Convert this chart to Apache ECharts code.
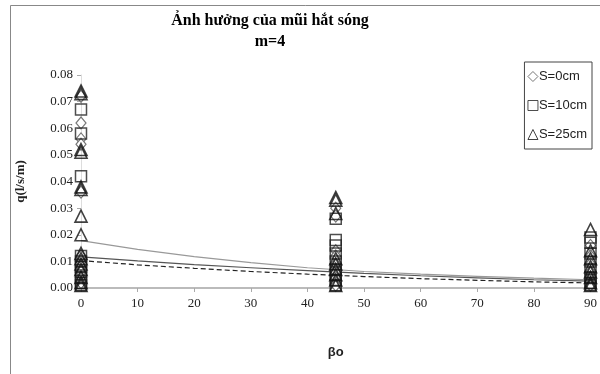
<!DOCTYPE html>
<html>
<head>
<meta charset="utf-8">
<script src="https://cdn.jsdelivr.net/npm/echarts@6/dist/echarts.min.js"></script>
<style>
  html, body { margin: 0; padding: 0; background: #fff; }
  #chart { width: 600px; height: 374px; }
</style>
</head>
<body>
<div id="chart"></div>
<script>
// angle positions on the x axis
const angles = [0, 45, 90];

const s0At0 = [0.072, 0.062, 0.056, 0.054, 0.036, 0.012, 0.010, 0.008, 0.006, 0.004, 0.002];
const s0At45 = [0.030, 0.027, 0.014, 0.012, 0.009, 0.006, 0.004, 0.002, 0.001];
const s0At90 = [0.016, 0.012, 0.009, 0.006, 0.004, 0.002, 0.001];

const s10At0 = [0.067, 0.058, 0.042, 0.012, 0.010, 0.008, 0.006, 0.004, 0.002, 0.001];
const s10At45 = [0.026, 0.018, 0.016, 0.013, 0.010, 0.007, 0.005, 0.003, 0.001];
const s10At90 = [0.019, 0.017, 0.013, 0.010, 0.007, 0.004, 0.002, 0.001];

const s25At0 = [0.074, 0.073, 0.052, 0.051, 0.038, 0.037, 0.027, 0.020, 0.013, 0.011, 0.009, 0.007, 0.004, 0.002, 0.001];
const s25At45 = [0.034, 0.033, 0.028, 0.011, 0.009, 0.007, 0.005, 0.003, 0.001];
const s25At90 = [0.022, 0.014, 0.011, 0.008, 0.006, 0.004, 0.002, 0.001];

// trend lines, read at every 10 degrees
const trendX = [0, 10, 20, 30, 40, 50, 60, 70, 80, 90];
const trendGray = [0.0178, 0.0145, 0.0118, 0.0095, 0.0076, 0.0062, 0.0052, 0.0044, 0.0037, 0.0031];
const trendDark = [0.0117, 0.0102, 0.0088, 0.0076, 0.0065, 0.0055, 0.0046, 0.0038, 0.0031, 0.0026];
const trendDash = [0.0103, 0.0087, 0.0074, 0.0062, 0.0052, 0.0043, 0.0035, 0.0029, 0.0023, 0.0019];

const xTicks = [0, 10, 20, 30, 40, 50, 60, 70, 80, 90];
const yTicks = [0, 0.01, 0.02, 0.03, 0.04, 0.05, 0.06, 0.07, 0.08];

function pts(groups) {
  const out = [];
  groups.forEach(function (vals, i) {
    vals.forEach(function (v) { out.push([angles[i], v]); });
  });
  return out;
}
function line(xs, ys) {
  return xs.map(function (x, i) { return [x, ys[i]]; });
}

const chart = echarts.init(document.getElementById('chart'));
const serif = 'Liberation Serif';
const sans = 'Liberation Sans';

chart.setOption({
  animation: false,
  backgroundColor: '#fff',
  graphic: [
    {
      type: 'rect',
      shape: { x: 10.5, y: 5.5, width: 620, height: 400 },
      style: { fill: 'none', stroke: '#888', lineWidth: 1 },
      silent: true
    },
    {
      type: 'text', x: 270, y: 13,
      style: { text: 'Ảnh hưởng của mũi hắt sóng', align: 'center', fill: '#000',
        font: 'bold 16px "Liberation Serif"' }
    },
    {
      type: 'text', x: 270, y: 34,
      style: { text: 'm=4', align: 'center', fill: '#000',
        font: 'bold 16px "Liberation Serif"' }
    }
  ],
  legend: {
    data: ['S=0cm', 'S=10cm', 'S=25cm'],
    orient: 'vertical',
    right: 8,
    top: 62,
    padding: [8, 5, 8, 3],
    itemGap: 16,
    itemWidth: 10,
    itemHeight: 10,
    borderColor: '#444',
    borderWidth: 1,
    itemStyle: { borderWidth: 1 },
    textStyle: { fontFamily: sans, fontSize: 13, color: '#222', padding: [0, 0, 0, -4] }
  },
  grid: { left: 81, right: 8, top: 75, bottom: 86 },
  xAxis: {
    type: 'value',
    min: 0,
    max: 90,
    interval: 10,
    name: 'βo',
    nameLocation: 'middle',
    nameGap: 58,
    nameTextStyle: { fontFamily: sans, fontWeight: 'bold', fontSize: 13, color: '#222' },
    axisLine: { lineStyle: { color: '#bbb', width: 2 } },
    axisTick: { lineStyle: { color: '#aaa' }, length: 4 },
    axisLabel: { fontFamily: serif, fontSize: 13, color: '#222', margin: 9,
      formatter: function (v) { return xTicks.indexOf(v) >= 0 ? String(v) : ''; } },
    splitLine: { show: false }
  },
  yAxis: {
    type: 'value',
    min: 0,
    max: 0.08,
    interval: 0.01,
    name: 'q(l/s/m)',
    nameLocation: 'middle',
    nameGap: 54,
    nameTextStyle: { fontFamily: serif, fontWeight: 'bold', fontSize: 13, color: '#222' },
    axisLine: { show: true, lineStyle: { color: '#ddd' } },
    axisTick: { show: true, lineStyle: { color: '#aaa' }, length: 4 },
    axisLabel: { fontFamily: serif, fontSize: 13, color: '#222', margin: 8,
      formatter: function (v) {
        const t = yTicks.find(function (k) { return Math.abs(k - v) < 1e-9; });
        return t === undefined ? '' : t.toFixed(2);
      } },
    splitLine: { show: false }
  },
  series: [
    {
      name: 'trendGray', type: 'line', data: line(trendX, trendGray), showSymbol: false,
      lineStyle: { color: '#999', width: 1.2 }, z: 1
    },
    {
      name: 'trendDark', type: 'line', data: line(trendX, trendDark), showSymbol: false,
      lineStyle: { color: '#555', width: 1.2 }, z: 1
    },
    {
      name: 'trendDash', type: 'line', data: line(trendX, trendDash), showSymbol: false,
      lineStyle: { color: '#222', width: 1.2, type: [5, 3] }, z: 1
    },
    {
      name: 'S=0cm', type: 'scatter', symbol: 'diamond', symbolSize: [10, 12],
      data: pts([s0At0, s0At45, s0At90]),
      itemStyle: { color: '#fff', borderColor: '#777', borderWidth: 1.2, opacity: 1 }, z: 3
    },
    {
      name: 'S=10cm', type: 'scatter', symbol: 'rect', symbolSize: 11,
      data: pts([s10At0, s10At45, s10At90]),
      itemStyle: { color: 'rgba(255,255,255,0)', borderColor: '#222', borderWidth: 1.5 }, z: 4
    },
    {
      name: 'S=25cm', type: 'scatter', symbol: 'triangle', symbolSize: 12,
      data: pts([s25At0, s25At45, s25At90]),
      itemStyle: { color: 'rgba(255,255,255,0)', borderColor: '#111', borderWidth: 1.6 }, z: 5
    }
  ]
});
</script>
</body>
</html>
